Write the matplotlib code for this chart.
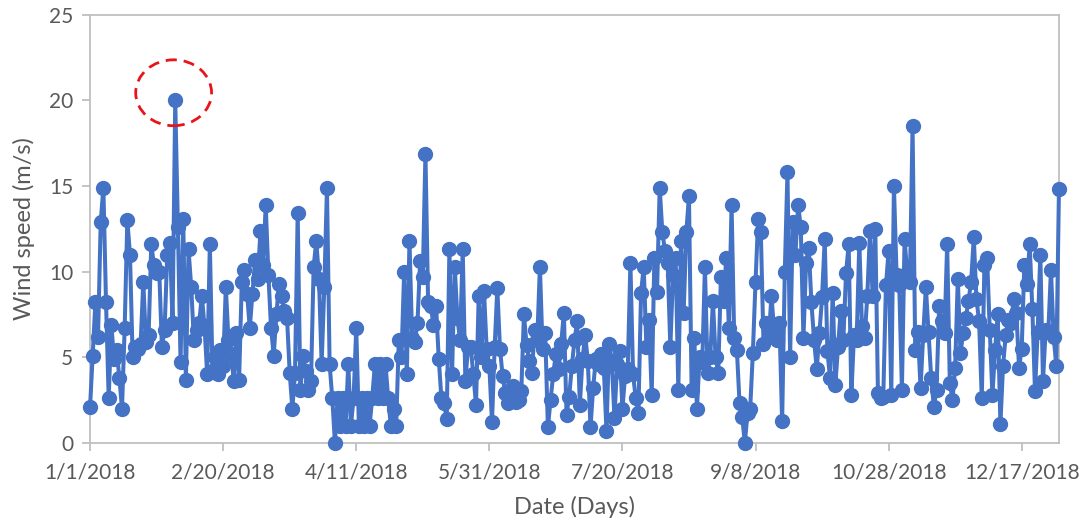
import matplotlib
matplotlib.use('Agg')
import matplotlib.pyplot as plt
import matplotlib.dates as mdates
from matplotlib.patches import Ellipse
import pandas as pd
import numpy as np

# daily wind speed for 2018 (m/s), one value per day
wind_speed = [
    2.1, 5.1, 8.2, 6.2, 12.9, 14.9, 8.2, 2.6, 6.9, 4.9,
    5.4, 3.8, 2.0, 6.7, 13.0, 11.0, 5.0, 5.6, 5.5, 5.8,
    9.4, 5.9, 6.3, 11.6, 10.4, 9.9, 10.0, 5.6, 6.6, 11.0,
    11.7, 7.0, 20.0, 12.6, 4.7, 13.1, 3.7, 11.3, 9.1, 6.0,
    6.6, 7.0, 8.6, 6.8, 4.0, 11.6, 4.2, 5.0, 4.0, 5.4,
    4.5, 9.1, 6.0, 5.2, 3.6, 6.4, 3.7, 9.4, 10.1, 8.7,
    6.7, 8.7, 10.7, 9.6, 12.35, 10.4, 13.9, 9.8, 6.7, 5.1,
    7.5, 9.3, 8.6, 7.7, 7.3, 4.1, 2.0, 4.1, 13.4, 3.1,
    5.1, 4.2, 3.1, 3.6, 10.3, 11.8, 9.6, 4.6, 9.1, 14.9,
    4.6, 2.6, 0.0, 2.6, 1.0, 2.6, 1.0, 4.6, 1.0, 2.6,
    6.7, 1.0, 2.6, 1.0, 2.6, 1.0, 2.6, 4.6, 2.6, 4.6,
    2.6, 4.6, 2.6, 1.0, 2.0, 1.0, 6.0, 5.0, 10.0, 4.0,
    11.8, 6.1, 5.9, 7.0, 10.6, 9.7, 16.9, 8.2, 8.0, 6.9,
    8.0, 4.9, 2.6, 2.3, 1.4, 11.3, 4.0, 10.3, 7.3, 6.0,
    11.3, 3.6, 5.6, 5.6, 4.0, 2.2, 8.6, 5.0, 8.85, 5.5,
    4.5, 1.2, 5.6, 9.05, 5.5, 3.9, 2.9, 2.3, 2.8, 3.3,
    2.4, 2.5, 3.0, 7.5, 5.7, 4.8, 4.1, 6.6, 6.0, 10.3,
    5.5, 6.4, 0.9, 2.5, 4.0, 5.2, 4.3, 5.8, 7.6, 1.65,
    2.7, 4.5, 6.0, 7.1, 2.2, 4.9, 6.3, 4.8, 0.9, 3.2,
    4.9, 4.6, 5.2, 4.4, 0.7, 5.8, 4.8, 1.45, 4.6, 5.35,
    2.0, 3.9, 4.3, 10.5, 4.0, 2.6, 1.75, 8.75, 10.3, 5.6,
    7.2, 2.8, 10.8, 8.8, 14.9, 12.3, 11.2, 10.5, 5.6, 9.8,
    10.8, 3.1, 11.8, 7.6, 12.3, 14.4, 3.1, 6.1, 2.0, 5.0,
    4.7, 10.3, 4.1, 5.0, 8.3, 5.0, 4.1, 9.7, 8.3, 10.8,
    6.7, 13.9, 6.1, 5.45, 2.3, 1.5, 0.0, 1.75, 2.0, 5.25,
    9.4, 13.1, 12.3, 5.8, 7.0, 6.2, 8.6, 6.5, 6.0, 7.0,
    1.25, 10.0, 15.8, 5.0, 12.9, 11.0, 13.9, 12.6, 6.1, 10.5,
    11.4, 8.2, 6.0, 4.3, 6.4, 8.5, 11.9, 5.35, 3.8, 8.75,
    3.4, 5.6, 7.7, 6.0, 9.9, 11.6, 2.8, 6.3, 6.0, 11.7,
    6.8, 6.1, 8.6, 12.35, 8.6, 12.5, 2.9, 2.6, 2.7, 9.2,
    11.2, 2.8, 15.0, 9.8, 9.2, 3.1, 11.9, 9.9, 9.4, 18.5,
    5.4, 6.5, 3.2, 6.3, 9.1, 6.5, 3.8, 2.1, 3.1, 8.0,
    7.1, 6.4, 11.6, 3.5, 2.5, 4.4, 9.6, 5.25, 6.4, 7.3,
    8.3, 9.4, 12.0, 8.4, 7.1, 2.6, 10.4, 10.8, 6.6, 2.8,
    5.4, 7.5, 1.1, 4.5, 6.3, 7.2, 7.0, 8.4, 7.6, 4.4,
    5.5, 10.4, 9.3, 11.6, 7.8, 3.0, 6.5, 11.0, 3.6, 6.6,
    6.5, 10.1, 6.2, 4.5, 14.8,
]
dates = pd.date_range('2018-01-01', periods=len(wind_speed), freq='D')
tick_dates = dates[::50]
tick_labels = [f'{d.month}/{d.day}/{d.year}' for d in tick_dates]
y_ticks = [0, 5, 10, 15, 20, 25]

plt.rcParams['font.family'] = ['Lato', 'DejaVu Sans']
text_color = '#595959'
axis_color = '#BFBFBF'

fig = plt.figure(figsize=(10.85, 5.31), dpi=100)
ax = fig.add_axes([0.083, 0.166, 0.893, 0.806])

ax.plot(dates, wind_speed, color='#4472C4', linewidth=2.9,
        marker='o', markersize=10, clip_on=False, zorder=3)

ax.set_xlim(dates[0], dates[-1])
ax.set_ylim(0, 25)
ax.set_xticks(tick_dates)
ax.set_xticklabels(tick_labels)
ax.set_yticks(y_ticks)

for side in ['left', 'right', 'top', 'bottom']:
    ax.spines[side].set_color(axis_color)
    ax.spines[side].set_linewidth(1.3)
ax.tick_params(axis='both', colors=axis_color, labelcolor=text_color,
               labelsize=15, length=6, width=1.3, direction='out')
ax.tick_params(axis='x', pad=8)
ax.tick_params(axis='y', pad=6)

ax.set_xlabel('Date (Days)', fontsize=17, color=text_color, labelpad=10)
ax.set_ylabel('Wind speed (m/s)', fontsize=17, color=text_color, labelpad=10)

# dashed circle around the highest reading
peak = int(np.argmax(wind_speed))
center_x = mdates.date2num(dates[peak]) - 0.6
ring = Ellipse((center_x, wind_speed[peak] + 0.45), width=28.5, height=3.85,
               fill=False, edgecolor='#E8141B', linestyle=(0, (4, 2.5)),
               linewidth=2.0, zorder=4, clip_on=False)
ax.add_patch(ring)

fig.savefig('out.png', dpi=100)
